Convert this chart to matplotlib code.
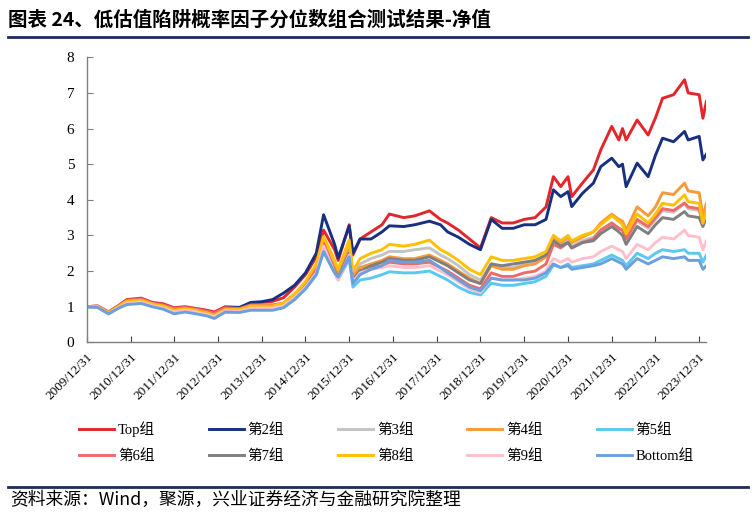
import pandas as pd
import matplotlib.pyplot as plt
from matplotlib.lines import Line2D

# datas dos pontos
dates = ['2009-12-31', '2010-03-31', '2010-06-30', '2010-09-30', '2010-11-30', '2011-03-31',
         '2011-06-30', '2011-09-30', '2011-12-31', '2012-03-31', '2012-06-30', '2012-09-30',
         '2012-11-30', '2013-02-28', '2013-06-30', '2013-09-30', '2013-12-31', '2014-03-31',
         '2014-06-30', '2014-09-30', '2014-12-31', '2015-03-31', '2015-05-31', '2015-08-31',
         '2015-09-30', '2015-12-31', '2016-01-31', '2016-03-31', '2016-06-30', '2016-09-30',
         '2016-11-30', '2017-03-31', '2017-06-30', '2017-10-31', '2018-01-31', '2018-03-31',
         '2018-06-30', '2018-09-30', '2018-12-31', '2019-03-31', '2019-06-30', '2019-09-30',
         '2019-12-31', '2020-03-31', '2020-06-30', '2020-08-31', '2020-10-31', '2020-12-31',
         '2021-01-31', '2021-04-30', '2021-07-31', '2021-09-30', '2021-12-31', '2022-02-28',
         '2022-03-31', '2022-04-30', '2022-07-31', '2022-10-31', '2022-12-31', '2023-02-28',
         '2023-05-31', '2023-08-31', '2023-09-30', '2023-12-31', '2024-01-31', '2024-02-29']

g_top = [1.0, 1.02, 0.85, 1.05, 1.2, 1.24, 1.12, 1.08, 0.97, 1.0, 0.95, 0.9,
         0.85, 1.0, 0.98, 1.1, 1.12, 1.15, 1.25, 1.55, 1.9, 2.4, 3.15, 2.6,
         2.3, 3.3, 2.45, 2.9, 3.1, 3.3, 3.6, 3.5, 3.55, 3.69, 3.45, 3.35,
         3.15, 2.9, 2.65, 3.5, 3.35, 3.35, 3.45, 3.5, 3.8, 4.65, 4.37, 4.65,
         4.09, 4.47, 4.84, 5.4, 6.06, 5.68, 6.0, 5.68, 6.24, 5.82, 6.3, 6.85,
         6.95, 7.37, 7.0, 6.95, 6.29, 6.76]
g2 = [1.0, 1.0, 0.83, 1.02, 1.17, 1.2, 1.1, 1.03, 0.93, 0.97, 0.92, 0.86,
      0.8, 0.97, 0.98, 1.12, 1.14, 1.2, 1.38, 1.6, 1.95, 2.5, 3.58, 2.75,
      2.37, 3.27, 2.5, 2.9, 2.9, 3.1, 3.27, 3.25, 3.3, 3.4, 3.3, 3.1,
      2.95, 2.75, 2.6, 3.45, 3.2, 3.2, 3.3, 3.3, 3.45, 4.28, 4.09, 4.23,
      3.81, 4.18, 4.47, 4.93, 5.17, 4.93, 5.0, 4.37, 5.03, 4.65, 5.25, 5.73,
      5.63, 5.92, 5.68, 5.78, 5.12, 5.28]
g3 = [1.0, 1.0, 0.82, 1.0, 1.12, 1.15, 1.06, 1.0, 0.88, 0.92, 0.87, 0.8,
      0.74, 0.9, 0.9, 0.98, 0.98, 0.98, 1.05, 1.25, 1.55, 2.0, 2.8, 2.15,
      1.95, 2.7, 1.9, 2.2, 2.35, 2.45, 2.55, 2.55, 2.6, 2.65, 2.45, 2.35,
      2.15, 1.9, 1.75, 2.2, 2.1, 2.1, 2.2, 2.25, 2.45, 2.85, 2.75, 2.85,
      2.7, 2.85, 2.95, 3.15, 3.35, 3.2, 3.15, 2.9, 3.4, 3.2, 3.45, 3.7,
      3.65, 3.9, 3.75, 3.7, 3.3, 3.55]
g4 = [1.0, 1.0, 0.82, 1.0, 1.13, 1.15, 1.06, 1.0, 0.88, 0.93, 0.88, 0.81,
      0.75, 0.9, 0.9, 1.0, 1.0, 1.0, 1.07, 1.3, 1.6, 2.05, 2.7, 2.1,
      1.9, 2.6, 1.85, 2.1, 2.2, 2.3, 2.4, 2.35, 2.35, 2.45, 2.3, 2.2,
      2.0, 1.8, 1.65, 2.15, 2.05, 2.05, 2.15, 2.2, 2.4, 2.9, 2.8, 2.95,
      2.8, 2.95, 3.1, 3.35, 3.6, 3.45, 3.4, 3.15, 3.8, 3.55, 3.8, 4.2,
      4.15, 4.47, 4.25, 4.2, 3.53, 3.9]
g5 = [1.0, 0.99, 0.8, 0.98, 1.08, 1.1, 1.02, 0.95, 0.83, 0.88, 0.83, 0.76,
      0.7, 0.85, 0.85, 0.93, 0.93, 0.92, 0.98, 1.2, 1.5, 1.9, 2.55, 1.95,
      1.75, 2.35, 1.55, 1.75, 1.8, 1.9, 1.98, 1.95, 1.95, 2.0, 1.85, 1.75,
      1.55, 1.4, 1.33, 1.66, 1.6, 1.6, 1.65, 1.7, 1.85, 2.17, 2.1, 2.2,
      2.1, 2.15, 2.2, 2.3, 2.45, 2.35, 2.3, 2.15, 2.5, 2.35, 2.5, 2.6,
      2.55, 2.6, 2.5, 2.5, 2.25, 2.45]
g6 = [1.0, 1.02, 0.85, 1.04, 1.18, 1.22, 1.1, 1.05, 0.95, 0.98, 0.93, 0.87,
      0.82, 0.97, 0.95, 1.05, 1.05, 1.05, 1.1, 1.35, 1.65, 2.1, 2.8, 2.0,
      1.8, 2.5, 1.75, 2.0, 2.1, 2.15, 2.25, 2.2, 2.2, 2.25, 2.1, 2.0,
      1.8, 1.6, 1.5, 1.95, 1.85, 1.85, 1.95, 2.0, 2.2, 2.75, 2.65, 2.8,
      2.65, 2.8, 2.9, 3.15, 3.35, 3.2, 3.15, 2.9, 3.45, 3.25, 3.5, 3.75,
      3.7, 3.91, 3.8, 3.75, 3.35, 3.6]
g7 = [1.0, 1.0, 0.82, 1.0, 1.12, 1.14, 1.05, 0.98, 0.87, 0.91, 0.86, 0.79,
      0.73, 0.88, 0.88, 0.97, 0.97, 0.97, 1.03, 1.25, 1.55, 1.95, 2.65, 2.0,
      1.8, 2.5, 1.75, 2.0, 2.15, 2.25, 2.35, 2.3, 2.3, 2.4, 2.25, 2.15,
      1.95, 1.75, 1.65, 2.2, 2.15, 2.2, 2.25, 2.3, 2.45, 2.85, 2.7, 2.8,
      2.65, 2.8, 2.85, 3.05, 3.25, 3.1, 3.0, 2.75, 3.25, 3.05, 3.3, 3.5,
      3.45, 3.67, 3.55, 3.5, 3.25, 3.5]
g8 = [1.0, 1.0, 0.83, 1.02, 1.15, 1.18, 1.08, 1.02, 0.9, 0.95, 0.9, 0.83,
      0.76, 0.92, 0.92, 1.02, 1.02, 1.02, 1.1, 1.35, 1.7, 2.2, 2.97, 2.3,
      2.05, 2.87, 2.0, 2.35, 2.5, 2.6, 2.75, 2.7, 2.75, 2.87, 2.6, 2.5,
      2.3, 2.05, 1.9, 2.4, 2.3, 2.3, 2.35, 2.4, 2.55, 3.0, 2.85, 3.0,
      2.85, 3.0, 3.1, 3.3, 3.55, 3.4, 3.3, 3.05, 3.6, 3.35, 3.6, 3.9,
      3.85, 4.14, 3.95, 3.9, 3.34, 3.67]
g9 = [1.0, 0.99, 0.8, 0.98, 1.1, 1.13, 1.03, 0.97, 0.85, 0.9, 0.85, 0.78,
      0.72, 0.88, 0.87, 0.96, 0.96, 0.96, 1.02, 1.25, 1.55, 1.95, 2.7, 1.95,
      1.75, 2.45, 1.7, 1.95, 2.05, 2.1, 2.15, 2.1, 2.1, 2.15, 2.0, 1.9,
      1.7, 1.5, 1.4, 1.8, 1.75, 1.75, 1.8, 1.85, 2.0, 2.35, 2.25, 2.35,
      2.25, 2.35, 2.4, 2.55, 2.7, 2.6, 2.55, 2.35, 2.75, 2.6, 2.8, 2.95,
      2.9, 3.15, 3.0, 2.95, 2.6, 2.85]
g_bottom = [1.0, 0.98, 0.8, 0.97, 1.06, 1.09, 1.0, 0.93, 0.8, 0.85, 0.8, 0.74,
            0.67, 0.85, 0.84, 0.9, 0.9, 0.9, 0.97, 1.2, 1.5, 1.9, 2.55, 1.95,
            1.83, 2.4, 1.65, 1.9, 2.05, 2.15, 2.3, 2.25, 2.25, 2.3, 2.1, 1.95,
            1.75, 1.55, 1.45, 1.8, 1.75, 1.75, 1.75, 1.8, 1.95, 2.2, 2.1, 2.15,
            2.05, 2.1, 2.15, 2.2, 2.35, 2.25, 2.2, 2.05, 2.35, 2.2, 2.3, 2.4,
            2.35, 2.4, 2.3, 2.3, 2.05, 2.15]

labels = ['Top组', '第2组', '第3组', '第4组', '第5组',
          '第6组', '第7组', '第8组', '第9组', 'Bottom组']
colors = ['#E3262B', '#17307F', '#C3C3C3', '#F79A3A', '#5BC8F0',
          '#F06A6A', '#7F7F7F', '#FFC000', '#FFBFCB', '#6CA0DC']
tick_years = list(range(2009, 2024))

x = pd.to_datetime(dates)
series = [g_top, g2, g3, g4, g5, g6, g7, g8, g9, g_bottom]

plt.rcParams['font.family'] = ['Liberation Serif', 'Noto Sans CJK SC']

fig = plt.figure(figsize=(7.56, 5.15), dpi=100)
ax = fig.add_axes([0.1148, 0.3353, 0.8197, 0.5534])

handles = []
for y, lab, c in zip(series, labels, colors):
    ln, = ax.plot(x, y, color=c, lw=2.1, label=lab, solid_joinstyle='round')
    handles.append(ln)

ticks = pd.to_datetime([f'{yr}-12-31' for yr in tick_years])
ax.set_xticks(ticks)
ax.set_xticklabels([f'{yr}/12/31' for yr in tick_years], rotation=45,
                   ha='right', rotation_mode='anchor', fontsize=9.5)
ax.set_xlim(pd.Timestamp('2009-12-31'), pd.Timestamp('2024-03-01'))
ax.set_ylim(0, 8)
ax.set_yticks(range(0, 9))
ax.tick_params(axis='y', direction='in', length=4, labelsize=11, pad=9, color='#7f7f7f')
ax.tick_params(axis='x', direction='in', length=4, pad=6, color='#404040')
for s in ['top', 'right']:
    ax.spines[s].set_visible(False)
for s in ['left', 'bottom']:
    ax.spines[s].set_color('#7f7f7f')
    ax.spines[s].set_linewidth(1.0)

# legenda preenchida por linhas (5 por linha)
order = [0, 5, 1, 6, 2, 7, 3, 8, 4, 9]
fig.legend([handles[i] for i in order], [labels[i] for i in order],
           loc='upper left', bbox_to_anchor=(0.105, 0.182), ncol=5, frameon=False,
           fontsize=10.5, handlelength=2.4, handletextpad=0.25, columnspacing=3.7,
           labelspacing=0.85, borderpad=0, borderaxespad=0)

# titulo e rodape
fig.text(0.011, 0.962, '图表 24、低估值陷阱概率因子分位数组合测试结果-净值',
         family='Noto Sans CJK SC', fontweight='bold', fontsize=14, va='center')
fig.add_artist(Line2D([0.011, 0.99], [0.928, 0.928], color='#1F2A5C', lw=2.0))
fig.add_artist(Line2D([0.011, 0.99], [0.054, 0.054], color='#1F2A5C', lw=2.0))
fig.text(0.013, 0.029, '资料来源：Wind，聚源，兴业证券经济与金融研究院整理',
         family='Noto Sans CJK SC', fontsize=12.8, va='center')

fig.savefig('out.png', dpi=100)
